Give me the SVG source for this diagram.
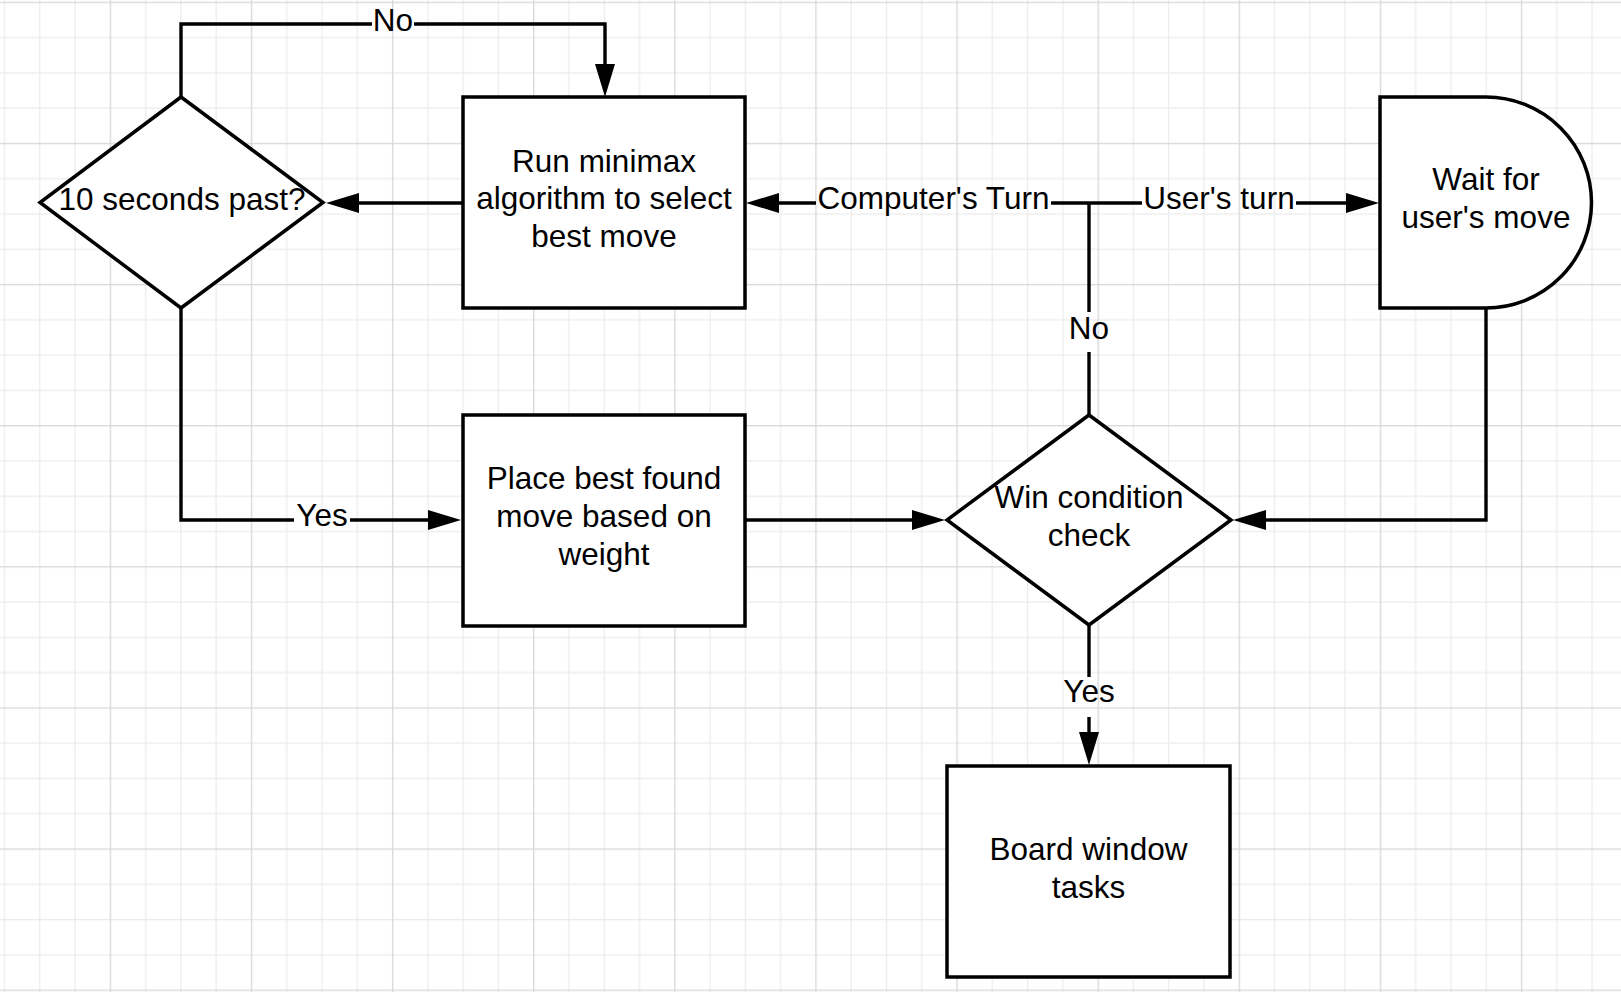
<svg xmlns="http://www.w3.org/2000/svg" width="1621" height="992" viewBox="0 0 1621 992">
<style>
.node{fill:#fff;stroke:#000;stroke-width:3.5;stroke-linejoin:miter}
.conn{fill:none;stroke:#000;stroke-width:3.4;stroke-linecap:butt;stroke-linejoin:miter}
.t{font-family:"Liberation Sans",Arial,sans-serif;font-size:31.5px;fill:#000;text-anchor:middle}
</style>
<defs>
<pattern id="grid" patternUnits="userSpaceOnUse" x="109.7" y="1.7" width="141.12" height="141.12">
<rect x="0" y="0" width="141.12" height="141.12" fill="#fff"/>
<rect x="35.28" y="0" width="1.2" height="141.12" fill="#ebebeb"/>
<rect x="70.56" y="0" width="1.2" height="141.12" fill="#ebebeb"/>
<rect x="105.84" y="0" width="1.2" height="141.12" fill="#ebebeb"/>
<rect x="0" y="35.28" width="141.12" height="1.2" fill="#ebebeb"/>
<rect x="0" y="70.56" width="141.12" height="1.2" fill="#ebebeb"/>
<rect x="0" y="105.84" width="141.12" height="1.2" fill="#ebebeb"/>
<rect x="0" y="0" width="1.3" height="141.12" fill="#d8d8d8"/>
<rect x="0" y="0" width="141.12" height="1.3" fill="#d8d8d8"/>
</pattern>
<marker id="arr" markerUnits="userSpaceOnUse" viewBox="0 0 33 20" refX="0" refY="10" markerWidth="33" markerHeight="20" orient="auto">
<path d="M0,0 L33,10 L0,20 z" fill="#000"/>
</marker>
</defs>
<rect width="1621" height="992" fill="url(#grid)"/>

<g id="connectors">
<path class="conn" d="M181,97 V24 H372"/>
<path class="conn" d="M414,24 H605 V64" marker-end="url(#arr)"/>
<text class="t" x="393" y="31">No</text>

<path class="conn" d="M463,203 H359" marker-end="url(#arr)"/>

<path class="conn" d="M1089,415 V352"/>
<path class="conn" d="M1089,312 V203"/>
<text class="t" x="1089" y="339">No</text>

<path class="conn" d="M1089,203 H1051"/>
<path class="conn" d="M816,203 H779" marker-end="url(#arr)"/>
<text class="t" x="933.5" y="209">Computer's Turn</text>

<path class="conn" d="M1089,203 H1142"/>
<path class="conn" d="M1296,203 H1346" marker-end="url(#arr)"/>
<text class="t" x="1219" y="209">User's turn</text>

<path class="conn" d="M181,308 V520 H294"/>
<path class="conn" d="M350,520 H428" marker-end="url(#arr)"/>
<text class="t" x="322" y="526">Yes</text>

<path class="conn" d="M745,520 H912" marker-end="url(#arr)"/>

<path class="conn" d="M1486,309 V520 H1266" marker-end="url(#arr)"/>

<path class="conn" d="M1089,625 V677"/>
<path class="conn" d="M1089,717 V732" marker-end="url(#arr)"/>
<text class="t" x="1089" y="702">Yes</text>
</g>

<g id="node-timer">
<polygon class="node" points="181,97 323,202.5 181,308 40,202.5"/>
<text class="t" x="182" y="209.5">10 seconds past?</text>
</g>

<g id="node-minimax">
<rect class="node" x="463" y="97" width="282" height="211"/>
<text class="t" x="604" y="171.5">Run minimax</text>
<text class="t" x="604" y="209">algorithm to select</text>
<text class="t" x="604" y="246.5">best move</text>
</g>

<g id="node-wait">
<path class="node" d="M1380,97 H1486 A105.5,105.5 0 0 1 1486,308 H1380 Z"/>
<text class="t" x="1486" y="190">Wait for</text>
<text class="t" x="1486" y="228">user's move</text>
</g>

<g id="node-place">
<rect class="node" x="463" y="415" width="282" height="211"/>
<text class="t" x="604" y="489">Place best found</text>
<text class="t" x="604" y="527">move based on</text>
<text class="t" x="604" y="565">weight</text>
</g>

<g id="node-win">
<polygon class="node" points="1089,415 1231,520 1089,625 947,520"/>
<text class="t" x="1089" y="507.5">Win condition</text>
<text class="t" x="1089" y="545.5">check</text>
</g>

<g id="node-board">
<rect class="node" x="947" y="766" width="283" height="211"/>
<text class="t" x="1088.5" y="860">Board window</text>
<text class="t" x="1088.5" y="898">tasks</text>
</g>
</svg>
